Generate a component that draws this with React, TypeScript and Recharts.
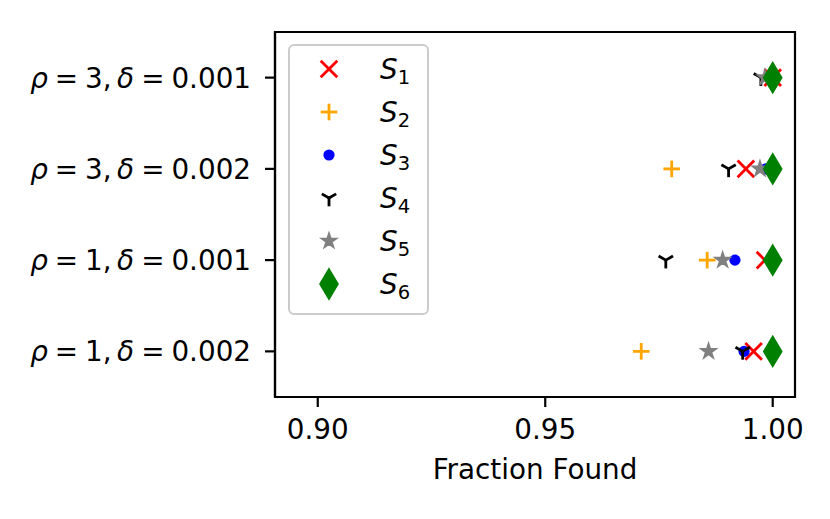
import React from 'react';
import { ScatterChart, Scatter, XAxis, YAxis, ReferenceArea, Legend } from 'recharts';

// Categories bottom -> top
const rhoValues = ['1', '1', '3', '3'];
const deltaValues = ['0.002', '0.001', '0.002', '0.001'];
const categoryIndex = [0, 1, 2, 3];

const xTicks = [0.9, 0.95, 1.0];

const seriesNames = ['1', '2', '3', '4', '5', '6'];
const s1 = [0.9958, 0.9983, 0.9941, 1.0];
const s2 = [0.9711, 0.9856, 0.9778, 1.0];
const s3 = [0.9937, 0.9917, 0.9985, 1.0];
const s4 = [0.9934, 0.9765, 0.9903, 0.9974];
const s5 = [0.9859, 0.989, 0.9972, 0.9983];
const s6 = [1.0, 1.0, 1.0, 1.0];

const FONT = 'DejaVu Sans';
const FS = 27.8;
const LW = 2.8;

const toPoints = (vals: number[]) => vals.map((v, i) => ({ x: v, y: categoryIndex[i] }));

const XMark = ({ cx, cy }: any) => (
  <g stroke="#ff0000" strokeWidth={LW} strokeLinecap="butt">
    <line x1={cx - 8.3} y1={cy - 8.3} x2={cx + 8.3} y2={cy + 8.3} />
    <line x1={cx - 8.3} y1={cy + 8.3} x2={cx + 8.3} y2={cy - 8.3} />
  </g>
);
const PlusMark = ({ cx, cy }: any) => (
  <g stroke="#ffa500" strokeWidth={LW}>
    <line x1={cx - 8.3} y1={cy} x2={cx + 8.3} y2={cy} />
    <line x1={cx} y1={cy - 8.3} x2={cx} y2={cy + 8.3} />
  </g>
);
const DotMark = ({ cx, cy }: any) => <circle cx={cx} cy={cy} r={5.6} fill="#0000ff" />;
const TriMark = ({ cx, cy }: any) => {
  const r = 8.3;
  const dx = r * Math.cos(Math.PI / 6);
  const dy = r * Math.sin(Math.PI / 6);
  return (
    <g stroke="#000" strokeWidth={LW}>
      <line x1={cx} y1={cy} x2={cx} y2={cy + r} />
      <line x1={cx} y1={cy} x2={cx - dx} y2={cy - dy} />
      <line x1={cx} y1={cy} x2={cx + dx} y2={cy - dy} />
    </g>
  );
};
const StarMark = ({ cx, cy }: any) => {
  const R = 8.0;
  const r = R * 0.382;
  const pts: string[] = [];
  for (let i = 0; i < 10; i++) {
    const rad = i % 2 === 0 ? R : r;
    const a = -Math.PI / 2 + (i * Math.PI) / 5;
    pts.push(`${cx + rad * Math.cos(a)},${cy + rad * Math.sin(a)}`);
  }
  return <polygon points={pts.join(' ')} fill="#808080" stroke="#808080" strokeWidth={1.6} strokeLinejoin="miter" />;
};
const DiamondMark = ({ cx, cy }: any) => {
  const h = 13.9;
  const w = 8.3;
  return (
    <polygon
      points={`${cx},${cy - h} ${cx + w},${cy} ${cx},${cy + h} ${cx - w},${cy}`}
      fill="#008000"
      stroke="#008000"
      strokeWidth={LW}
      strokeLinejoin="miter"
    />
  );
};

const markers = [XMark, PlusMark, DotMark, TriMark, StarMark, DiamondMark];
const seriesData = [s1, s2, s3, s4, s5, s6];

const YTick = (props: any) => {
  const { x, y, payload } = props;
  const i = payload.value as number;
  return (
    <text x={x} y={y} textAnchor="end" dominantBaseline="central" fontSize={FS} fontFamily={FONT} fill="#000">
      <tspan fontStyle="italic">ρ</tspan>
      <tspan dx={7}>=</tspan>
      <tspan dx={7}>{`${rhoValues[i]},`}</tspan>
      <tspan dx={5.5} fontStyle="italic">δ</tspan>
      <tspan dx={7}>=</tspan>
      <tspan dx={7}>{deltaValues[i]}</tspan>
    </text>
  );
};

const LegendBox = () => (
  <svg width={142} height={272} style={{ display: 'block' }}>
    <rect x={1} y={1} width={139} height={269} rx={5} ry={5} fill="#fff" fillOpacity={0.8} stroke="#cccccc" strokeWidth={2} />
    {seriesNames.map((n, i) => {
      const M = markers[i];
      const cy = 25 + i * 43;
      return (
        <g key={n}>
          <M cx={41} cy={cy} />
          <text x={92} y={cy + 10} fontSize={FS} fontFamily={FONT} fill="#000">
            <tspan fontStyle="italic">S</tspan>
            <tspan fontSize={19.5} dy={5}>{n}</tspan>
          </text>
        </g>
      );
    })}
  </svg>
);

export default function App() {
  return (
    <div style={{ position: 'absolute', left: 0, top: 0, width: 830, height: 519, background: '#fff' }}>
      <ScatterChart width={830} height={519} margin={{ top: 32, right: 35, left: 0, bottom: 0 }}>
        <XAxis
          type="number"
          dataKey="x"
          domain={[0.8906, 1.0049]}
          allowDataOverflow
          ticks={xTicks}
          tickFormatter={(v: number) => v.toFixed(2)}
          height={122}
          tickSize={10}
          tickMargin={12}
          axisLine={{ stroke: '#000', strokeWidth: 2.2 }}
          tickLine={{ stroke: '#000', strokeWidth: 2.2 }}
          tick={{ fontSize: FS, fill: '#000', fontFamily: FONT }}
          label={{ value: 'Fraction Found', position: 'insideBottom', offset: 40, fontSize: FS, fill: '#000', fontFamily: FONT }}
        />
        <YAxis
          type="number"
          dataKey="y"
          domain={[-0.5, 3.5]}
          allowDataOverflow
          ticks={categoryIndex}
          width={275}
          tickSize={10}
          tickMargin={14}
          axisLine={{ stroke: '#000', strokeWidth: 2.2 }}
          tickLine={{ stroke: '#000', strokeWidth: 2.2 }}
          tick={<YTick />}
        />
        <ReferenceArea x1={0.8906} x2={1.0049} y1={-0.5} y2={3.5} fill="none" stroke="#000" strokeWidth={2.2} ifOverflow="visible" />
        {seriesData.map((vals, i) => (
          <Scatter
            key={seriesNames[i]}
            name={`S${seriesNames[i]}`}
            data={toPoints(vals)}
            shape={markers[i]}
            isAnimationActive={false}
          />
        ))}
        <Legend
          layout="vertical"
          align="center"
          verticalAlign="middle"
          wrapperStyle={{ left: 288, top: 44, width: 142, height: 272 }}
          content={() => <LegendBox />}
        />
      </ScatterChart>
    </div>
  );
}
